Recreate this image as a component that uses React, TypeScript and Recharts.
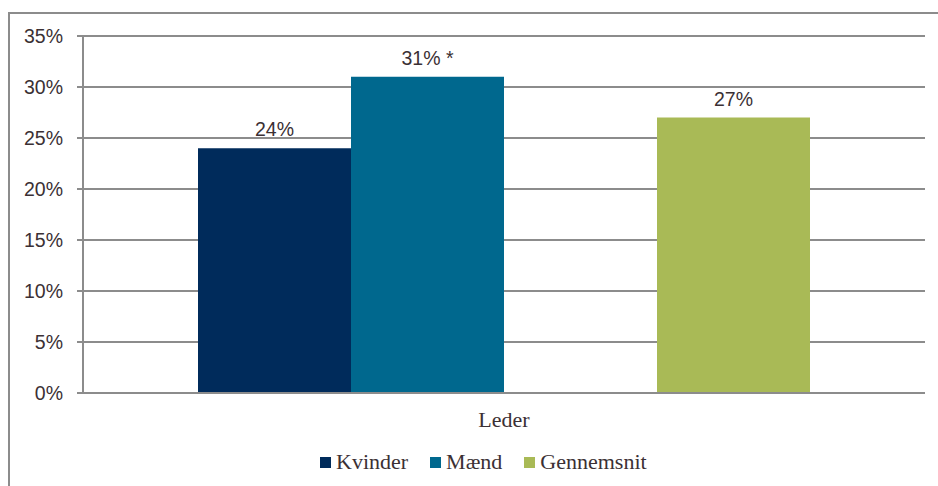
import React from 'react';
import { BarChart, Bar, XAxis, YAxis, CartesianGrid, LabelList } from 'recharts';

const categories = ['Leder'];
const kvinder = [24];
const maend = [31];
const gennemsnit = [27];
const seriesNames = ['Kvinder', 'Mænd', 'Gennemsnit'];
const seriesColors = ['#002B5B', '#00688E', '#A9BA56'];
const labelSuffixes = ['', ' *', ''];
const yTicks = [0, 5, 10, 15, 20, 25, 30, 35];

const data = categories.map((c, i) => ({
  category: c,
  kvinder: kvinder[i],
  maend: maend[i],
  blank: null,
  gennemsnit: gennemsnit[i],
}));

const TEXT = '#3b3034';
const GRID = '#8c8c8c';
const SANS = '"Liberation Sans", Arial, sans-serif';
const SERIF = '"Liberation Serif", serif';

const seriesKeys = ['kvinder', 'maend', 'gennemsnit'];

export default function App() {
  return (
    <div style={{ position: 'absolute', left: 0, top: 0, width: 938, height: 486, overflow: 'hidden', background: '#fff' }}>
      <div
        style={{
          position: 'absolute',
          left: 8,
          top: 12,
          width: 1000,
          height: 1000,
          borderLeft: `2px solid ${GRID}`,
          borderTop: `2px solid ${GRID}`,
        }}
      />
      <div style={{ position: 'absolute', left: 0, top: 0 }}>
        <BarChart
          width={938}
          height={486}
          data={data}
          margin={{ top: 36, right: 13, bottom: 53, left: 8 }}
          barGap={0}
          barCategoryGap={115}
        >
          <CartesianGrid vertical={false} stroke={GRID} strokeWidth={2} />
          <XAxis
            dataKey="category"
            height={40}
            stroke={GRID}
            strokeWidth={2}
            tickLine={false}
            tickSize={0}
            tickMargin={18}
            tick={{ fill: TEXT, fontFamily: SERIF, fontSize: 22 }}
          />
          <YAxis
            width={75}
            domain={[0, 35]}
            ticks={yTicks}
            interval={0}
            tickFormatter={(v: number) => `${v}%`}
            stroke={GRID}
            strokeWidth={2}
            tickSize={6}
            tickMargin={14}
            tick={{ fill: TEXT, fontFamily: SANS, fontSize: 19.5 }}
          />
          {seriesKeys.slice(0, 2).map((k, i) => (
            <Bar key={k} dataKey={k} name={seriesNames[i]} fill={seriesColors[i]} isAnimationActive={false}>
              <LabelList
                dataKey={k}
                position="top"
                offset={12}
                formatter={(v: number) => `${v}%${labelSuffixes[i]}`}
                style={{ fill: TEXT, fontFamily: SANS, fontSize: 19.5 }}
              />
            </Bar>
          ))}
          <Bar dataKey="blank" fill="transparent" legendType="none" isAnimationActive={false} />
          <Bar dataKey="gennemsnit" name={seriesNames[2]} fill={seriesColors[2]} isAnimationActive={false}>
            <LabelList
              dataKey="gennemsnit"
              position="top"
              offset={12}
              formatter={(v: number) => `${v}%${labelSuffixes[2]}`}
              style={{ fill: TEXT, fontFamily: SANS, fontSize: 19.5 }}
            />
          </Bar>
        </BarChart>
      </div>
      <div
        style={{
          position: 'absolute',
          left: 320,
          top: 449,
          display: 'flex',
          alignItems: 'center',
          fontFamily: SERIF,
          fontSize: 22,
          color: TEXT,
          whiteSpace: 'nowrap',
        }}
      >
        {seriesNames.map((n, i) => (
          <div key={n} style={{ display: 'flex', alignItems: 'center', marginRight: 22 }}>
            <span style={{ display: 'inline-block', width: 11, height: 11, background: seriesColors[i], marginRight: 5 }} />
            <span>{n}</span>
          </div>
        ))}
      </div>
    </div>
  );
}
